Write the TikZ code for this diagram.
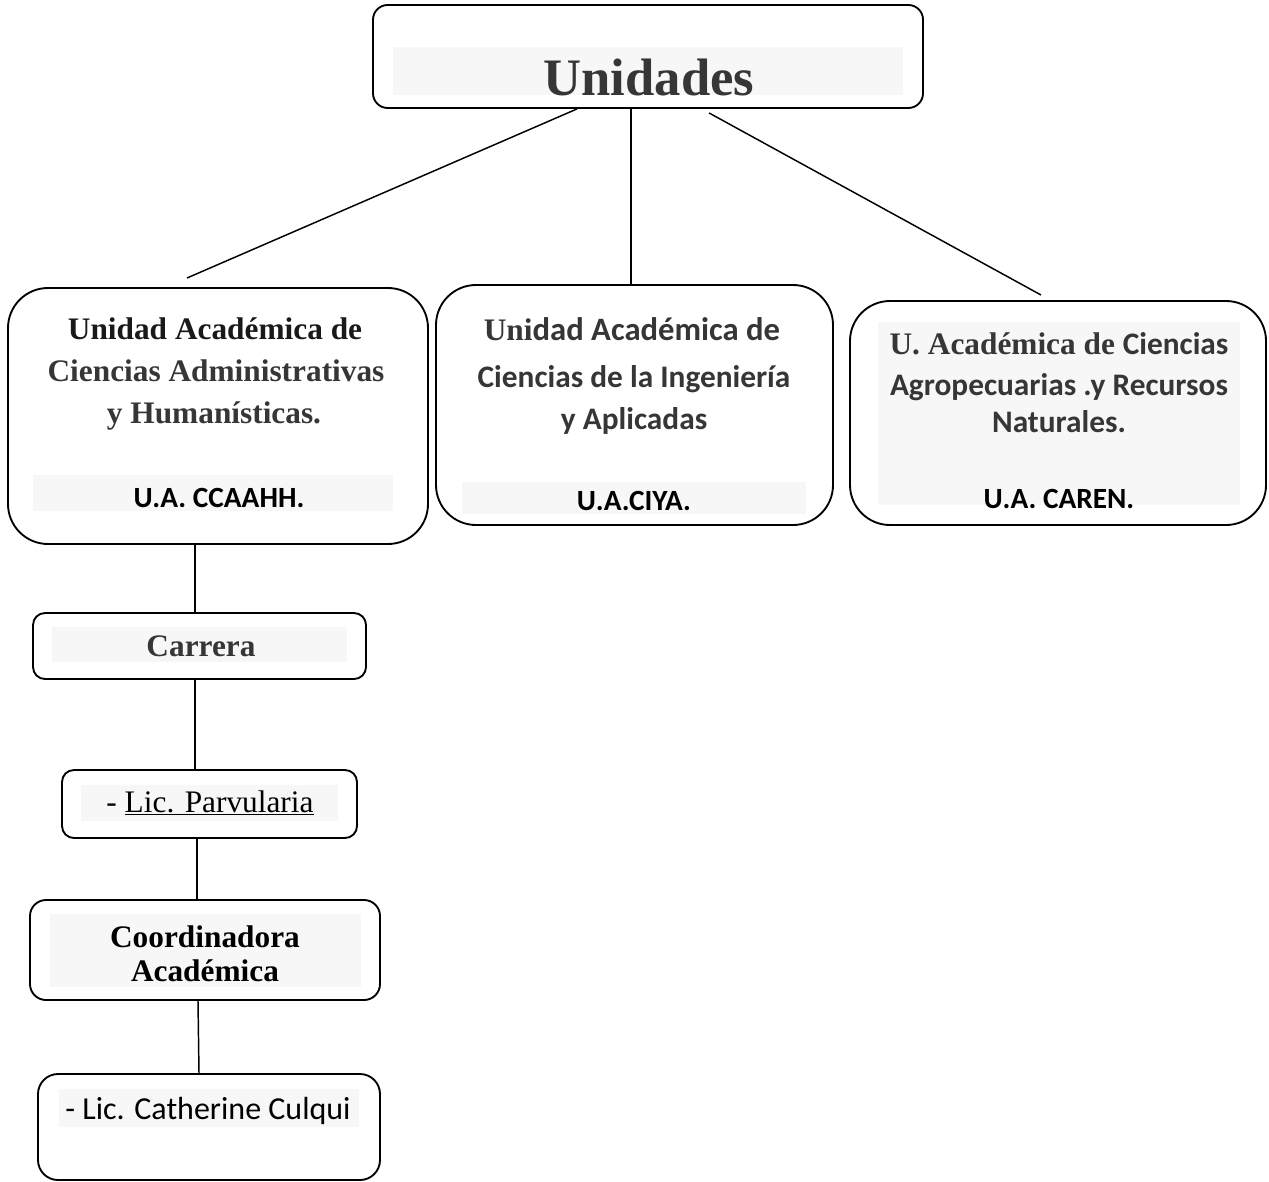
\documentclass[tikz,border=0pt]{standalone}
\usepackage{fontspec}
\setmainfont{Liberation Serif}
\newfontfamily\calib{Carlito}
\usetikzlibrary{calc}
\definecolor{bgc}{HTML}{F7F7F7}
\definecolor{txt}{HTML}{363636}
\begin{document}
\begin{tikzpicture}[x=0.75pt,y=-0.75pt,
  box/.style={draw=black, line width=1.4pt, fill=white, inner sep=0pt},
  conn/.style={draw=black, line width=1.1pt},
  bgrect/.style={fill=bgc, draw=none},
  serifb/.style={anchor=base, inner sep=0pt, text=txt, font=\fontsize{23.5}{28}\selectfont\bfseries},
  sansb/.style={anchor=base, inner sep=0pt, text=txt, font=\calib\fontsize{23.5}{28}\selectfont\bfseries},
  abbr/.style={anchor=base, inner sep=0pt, text=black, font=\calib\fontsize{22}{26}\selectfont\bfseries}]
\useasboundingbox (0,0) rectangle (1269,1181);
\fill[white] (0,0) rectangle (1269,1181);

% boxes
\node[box, rounded corners=11pt, minimum width=412.5pt, minimum height=77.25pt] (u) at (648,56.5) {};
\node[box, rounded corners=30pt, minimum width=315pt, minimum height=192pt] (b1) at (218,416) {};
\node[box, rounded corners=30pt, minimum width=297.75pt, minimum height=180pt] (b2) at (634.5,405) {};
\node[box, rounded corners=30pt, minimum width=312pt, minimum height=168pt] (b3) at (1058,413) {};
\node[box, rounded corners=9pt, minimum width=249.75pt, minimum height=49.5pt] (car) at (199.5,646) {};
\node[box, rounded corners=9pt, minimum width=221.25pt, minimum height=51pt] (par) at (209.5,804) {};
\node[box, rounded corners=12pt, minimum width=262.5pt, minimum height=75pt] (coo) at (205,950) {};
\node[box, rounded corners=15pt, minimum width=256.5pt, minimum height=79.5pt] (cat) at (209,1127) {};

% light text backgrounds
\fill[bgrect] (393,47) rectangle (903,95);
\fill[bgrect] (33,475) rectangle (393,511);
\fill[bgrect] (462,482) rectangle (806,514);
\fill[bgrect] (878,322) rectangle (1240,505);
\fill[bgrect] (52,627) rectangle (347,662);
\fill[bgrect] (81,785) rectangle (338,821);
\fill[bgrect] (50,914) rectangle (361,987);
\fill[bgrect] (59,1089) rectangle (359,1127);

% texts
\node[anchor=base, inner sep=0pt, text=txt, font=\fontsize{39.5}{44}\selectfont\bfseries] (tu) at (649,95) {Unidades};

\node[serifb, text=black!90] (t11) at (215,339) {Unidad Académica de};
\node[serifb] (t12) at (216,381) {Ciencias Administrativas};
\node[serifb] (t13) at (214,423) {y Humanísticas.};
\node[abbr] (t14) at (219,507) {U.A. CCAAHH.};

\node[serifb] (t21) at (632,340) {Uni{\calib\fontsize{24.5}{28}\selectfont dad Académica de}};
\node[sansb] (t22) at (634,387) {Ciencias de la Ingeniería};
\node[sansb] (t23) at (634,429) {y Aplicadas};
\node[abbr] (t24) at (634,510) {U.A.CIYA.};

\node[serifb] (t31) at (1059,354) {U. Académica de {\calib Ciencias}};
\node[sansb] (t32) at (1059,395) {Agropecuarias .y Recursos};
\node[sansb] (t33) at (1059,432) {Naturales.};
\node[abbr] (t34) at (1059,508) {U.A. CAREN.};

\node[serifb] (tcar) at (201,656) {Carrera};
\node[anchor=base, inner sep=0pt, text=black, font=\fontsize{23.5}{28}\selectfont] (tpar) at (210,812) {- \underline{Lic. Parvularia}};
\node[serifb, text=black] (tco1) at (205,947) {Coordinadora};
\node[serifb, text=black] (tco2) at (205,981) {Académica};
\node[anchor=base, inner sep=0pt, text=black, font=\calib\fontsize{24}{28}\selectfont] (tcat) at (208,1119) {- Lic. Catherine Culqui};

% connectors
\coordinate (e1) at (187,278);
\coordinate (e3) at (1041,295);
\coordinate (xa) at (195,0);
\coordinate (xb) at (197,0);
\draw[conn] ($(u.south)+(-71,0)$) -- (e1);
\draw[conn] ($(u.south)+(-17,0)$) -- ($(b2.north)+(-3.5,0)$);
\draw[conn] ($(u.south)+(61,4)$) -- (e3);
\draw[conn] (b1.south -| xa) -- (car.north -| xa);
\draw[conn] (car.south -| xa) -- (par.north -| xa);
\draw[conn] (par.south -| xb) -- (coo.north -| xb);
\draw[conn] ($(coo.south)+(-7,0)$) -- ($(cat.north)+(-10,0)$);
\end{tikzpicture}
\end{document}
